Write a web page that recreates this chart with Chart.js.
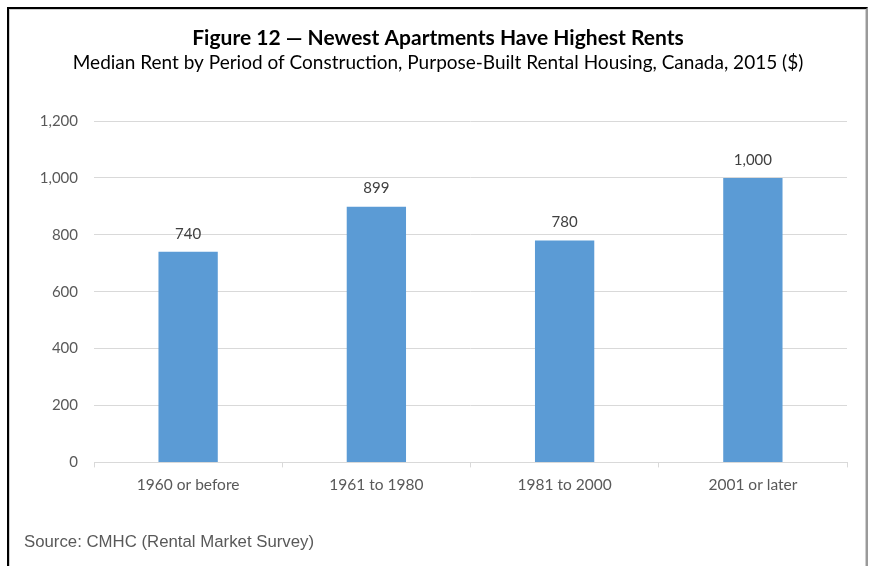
<!DOCTYPE html>
<html>
<head>
<meta charset="utf-8">
<script src="https://cdn.jsdelivr.net/npm/chart.js@4"></script>
<style>
    html, body { margin: 0; padding: 0; background: #fff; }
    #wrap { position: relative; width: 869px; height: 566px; overflow: hidden; }
    #frame {
        position: absolute; left: 7px; top: 7px; width: 857px; height: 570px;
        border-top: 2px solid #000; border-left: 2px solid #000; border-right: 2px solid #9a9a9a;
        box-shadow: inset 1px 1px 0 #cfcfcf, inset -1px 0 0 #cfcfcf;
    }
    #source {
        position: absolute; left: 24px; top: 532px; line-height: 20px;
        font: 16.8px "Liberation Sans", Arial, sans-serif; color: #595959;
    }
</style>
</head>
<body>
<div id="wrap">
    <canvas id="rentChart" width="869" height="566"></canvas>
    <div id="frame"></div>
    <div id="source">Source: CMHC (Rental Market Survey)</div>
</div>
<script>
    const periods = ['1960 or before', '1961 to 1980', '1981 to 2000', '2001 or later'];
    const medianRent = [740, 899, 780, 1000];
    const yTicks = [0, 200, 400, 600, 800, 1000, 1200];

    const FONT = 'Lato, "Open Sans", sans-serif';

    // Wert über jeden Balken schreiben
    const valueLabels = {
        id: 'valueLabels',
        afterDatasetsDraw(chart) {
            const ctx = chart.ctx;
            const meta = chart.getDatasetMeta(0);
            ctx.save();
            ctx.font = '15px ' + FONT;
            ctx.fillStyle = '#404040';
            ctx.textAlign = 'center';
            ctx.textBaseline = 'middle';
            meta.data.forEach((bar, i) => {
                ctx.fillText(medianRent[i].toLocaleString('en-US'), bar.x, bar.y - 18);
            });
            ctx.restore();
        }
    };

    const ctx = document.getElementById('rentChart').getContext('2d');
    const chart = new Chart(ctx, {
        type: 'bar',
        data: {
            labels: periods,
            datasets: [{
                data: medianRent,
                backgroundColor: '#5B9BD5',
                borderWidth: 0,
                barPercentage: 0.315,
                categoryPercentage: 1
            }]
        },
        options: {
            responsive: false,
            animation: false,
            // links etwas mehr Rand, damit der Titel über dem Rahmen zentriert ist
            layout: { padding: { top: 0, right: 22, bottom: 64, left: 29 } },
            plugins: {
                legend: { display: false },
                tooltip: { enabled: false },
                title: {
                    display: true,
                    text: 'Figure 12 \u2014 Newest Apartments Have Highest Rents',
                    color: '#000',
                    font: { family: FONT, size: 21, weight: 'bold', lineHeight: 1.2 },
                    padding: { top: 26, bottom: 0 }
                },
                subtitle: {
                    display: true,
                    text: 'Median Rent by Period of Construction, Purpose-Built Rental Housing, Canada, 2015 ($)',
                    color: '#000',
                    font: { family: FONT, size: 19, lineHeight: 1.2 },
                    padding: { top: 0, bottom: 47 }
                }
            },
            scales: {
                x: {
                    border: { color: '#D9D9D9' },
                    grid: { drawOnChartArea: false, drawTicks: true, tickLength: 5, color: '#D9D9D9' },
                    ticks: { color: '#595959', font: { family: FONT, size: 15.5, lineHeight: 1.2 }, padding: 8 }
                },
                y: {
                    min: 0,
                    max: 1200,
                    afterFit(scale) { scale.width = 65; },
                    afterBuildTicks(scale) { scale.ticks = yTicks.map(v => ({ value: v })); },
                    border: { display: false },
                    grid: { color: '#D9D9D9', drawTicks: false },
                    ticks: {
                        color: '#595959',
                        padding: 16,
                        font: { family: FONT, size: 15 },
                        callback: v => v.toLocaleString('en-US')
                    }
                }
            }
        },
        plugins: [valueLabels]
    });
</script>
</body>
</html>
